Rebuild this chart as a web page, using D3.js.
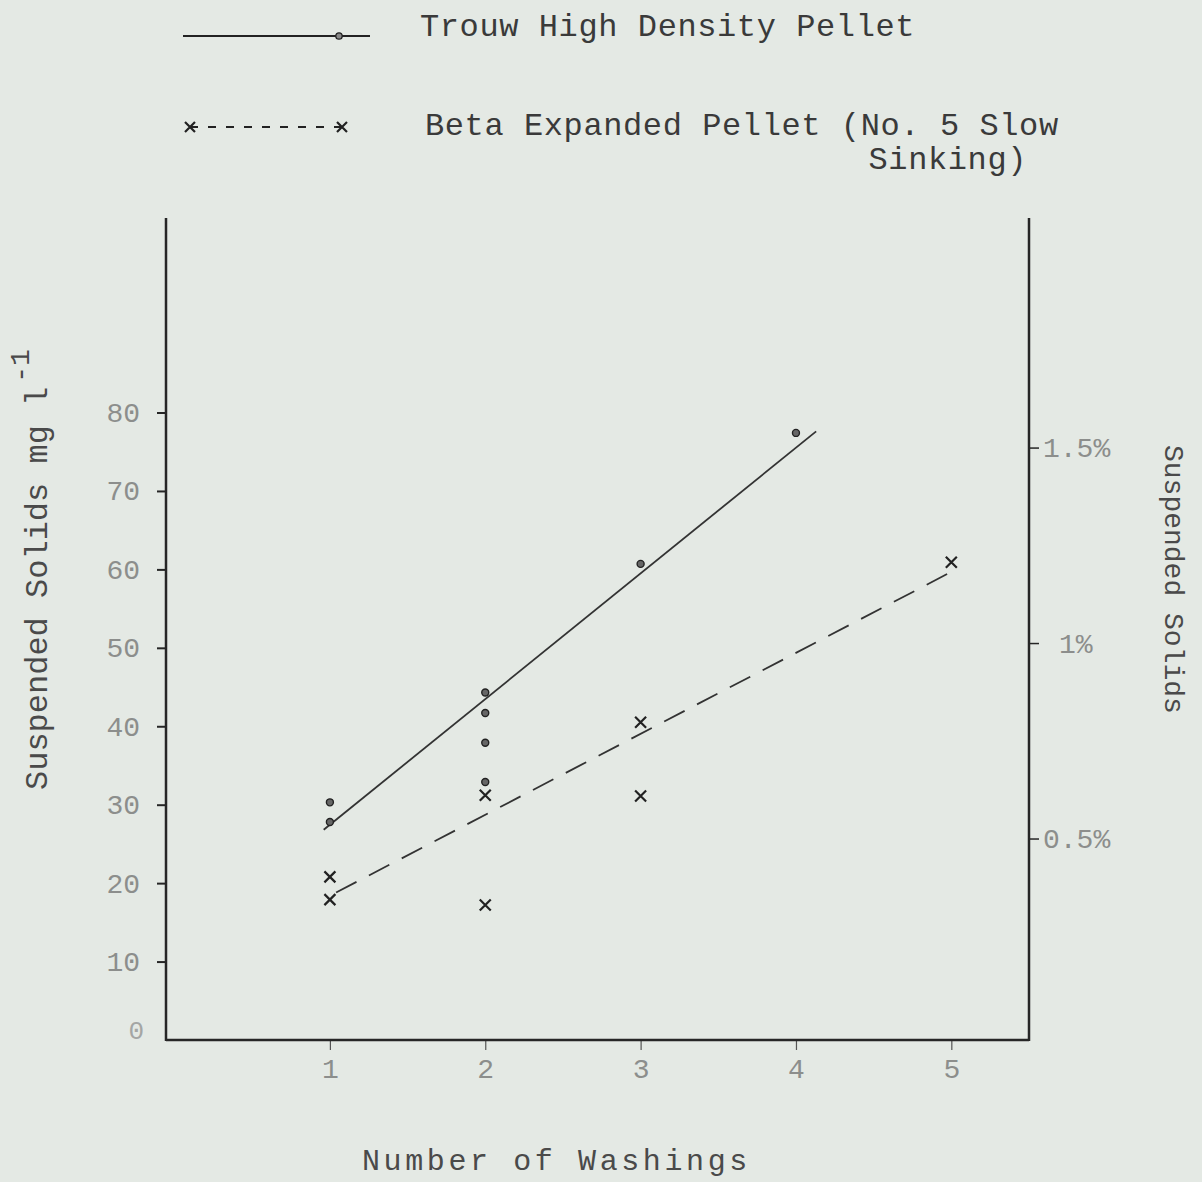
<!DOCTYPE html>
<html>
<head>
<meta charset="utf-8">
<script src="https://cdn.jsdelivr.net/npm/d3@7"></script>
<style>
  html, body { margin: 0; padding: 0; background: #e4e9e4; }
  svg { display: block; }
  text { font-family: "Liberation Mono", "DejaVu Sans Mono", monospace; }
</style>
</head>
<body>
<script>
// ---- data ----
const trouwWashings = [1, 1, 2, 2, 2, 2, 3, 4];
const trouwSolids   = [30.3, 27.8, 44.3, 41.7, 37.9, 32.9, 60.7, 77.4];
const trouwFitX     = [0.96, 4.13];
const trouwFitY     = [26.8, 77.6];

const betaWashings  = [1, 1, 2, 2, 3, 3, 5];
const betaSolids    = [20.8, 17.9, 31.2, 17.2, 40.5, 31.1, 60.9];
const betaFitX      = [1.04, 5.05];
const betaFitY      = [18.8, 60.2];

const xTicks   = [1, 2, 3, 4, 5];
const yTicks   = [10, 20, 30, 40, 50, 60, 70, 80];
const yLabels  = ["10", "20", "30", "40", "50", "60", "70", "80"];
const pctTicks = [0.5, 1, 1.5];
const pctLabels = ["0.5%", "1%", "1.5%"];

const legendNames = ["Trouw High Density Pellet", "Beta Expanded Pellet (No. 5 Slow", "Sinking)"];

// ---- layout ----
const W = 1202, H = 1182;
const svg = d3.select("body").append("svg").attr("width", W).attr("height", H);

const x = d3.scaleLinear().domain([-0.055, 5.5]).range([166, 1029]);
const y = d3.scaleLinear().domain([0, 104.8]).range([1040, 218]);
const yPct = d3.scaleLinear().domain([0, 2.1]).range([1034, 213]);

const ink = "#262626";
const faint = "#8c8e8c";

// axes
const gL = svg.append("g").attr("transform", `translate(${x.range()[0]},0)`)
  .call(d3.axisLeft(y).tickValues(yTicks).tickSize(9).tickPadding(17)
    .tickFormat((d, i) => yLabels[i]));
gL.select(".domain").remove();
gL.selectAll(".tick line").attr("stroke", ink).attr("stroke-width", 2);
gL.selectAll(".tick text").attr("fill", faint).attr("font-size", 28)
  .attr("font-family", "Liberation Mono");

// zero label
svg.append("text").attr("x", 144).attr("y", y(0) - 8)
  .attr("text-anchor", "end").attr("dominant-baseline", "middle")
  .attr("fill", "#a4a6a4").attr("font-size", 26).text("0");

const gB = svg.append("g").attr("transform", `translate(0,${y(0)})`)
  .call(d3.axisBottom(x).tickValues(xTicks).tickSize(10).tickPadding(8).tickFormat(d3.format("d")));
gB.select(".domain").remove();
gB.selectAll(".tick line").attr("stroke", "#555").attr("stroke-width", 1.2);
gB.selectAll(".tick text").attr("fill", faint).attr("font-size", 28)
  .attr("font-family", "Liberation Mono");

const gR = svg.append("g").attr("transform", `translate(${x.range()[1]},0)`)
  .call(d3.axisRight(yPct).tickValues(pctTicks).tickSize(10).tickPadding(4)
    .tickFormat((d, i) => pctLabels[i]));
gR.select(".domain").remove();
gR.selectAll(".tick line").attr("stroke", ink).attr("stroke-width", 1.5);
gR.selectAll(".tick text").attr("fill", faint).attr("font-size", 28)
  .attr("font-family", "Liberation Mono")
  .attr("dx", (d) => d === 1 ? 16 : 0);

// frame lines (open top)
svg.append("line").attr("x1", x.range()[0]).attr("x2", x.range()[0])
  .attr("y1", y.range()[1]).attr("y2", y(0) + 1)
  .attr("stroke", ink).attr("stroke-width", 2.5);
svg.append("line").attr("x1", x.range()[1]).attr("x2", x.range()[1])
  .attr("y1", y.range()[1]).attr("y2", y(0) + 1)
  .attr("stroke", ink).attr("stroke-width", 2.5);
svg.append("line").attr("x1", x.range()[0]).attr("x2", x.range()[1])
  .attr("y1", y(0)).attr("y2", y(0))
  .attr("stroke", ink).attr("stroke-width", 2.5);

// fitted lines
const line = d3.line().x(d => x(d[0])).y(d => y(d[1]));
svg.append("path").datum(d3.zip(trouwFitX, trouwFitY)).attr("d", line)
  .attr("fill", "none").attr("stroke", "#333").attr("stroke-width", 1.8);
svg.append("path").datum(d3.zip(betaFitX, betaFitY)).attr("d", line)
  .attr("fill", "none").attr("stroke", "#333").attr("stroke-width", 1.8)
  .attr("stroke-dasharray", "23 14");

// markers
svg.append("g").selectAll("circle").data(d3.zip(trouwWashings, trouwSolids)).join("circle")
  .attr("cx", d => x(d[0])).attr("cy", d => y(d[1])).attr("r", 3.5)
  .attr("fill", "#666").attr("stroke", "#222").attr("stroke-width", 1.4);

const xMark = (g, cx, cy, s) => {
  g.append("path")
    .attr("d", `M${cx - s},${cy - s}L${cx + s},${cy + s}M${cx - s},${cy + s}L${cx + s},${cy - s}`)
    .attr("stroke", "#222").attr("stroke-width", 2.2).attr("fill", "none");
};
const gX = svg.append("g");
d3.zip(betaWashings, betaSolids).forEach(d => xMark(gX, x(d[0]), y(d[1]), 5.5));

// legend
const lg = svg.append("g");
lg.append("line").attr("x1", 183).attr("x2", 370).attr("y1", 36).attr("y2", 36)
  .attr("stroke", "#222").attr("stroke-width", 2);
lg.append("circle").attr("cx", 339).attr("cy", 36).attr("r", 3.2)
  .attr("fill", "#888").attr("stroke", "#222").attr("stroke-width", 1.3);
lg.append("line").attr("x1", 190).attr("x2", 342).attr("y1", 127).attr("y2", 127)
  .attr("stroke", "#222").attr("stroke-width", 2).attr("stroke-dasharray", "8 10");
xMark(lg, 190, 127, 5);
xMark(lg, 342, 127, 5);

lg.append("text").attr("x", 420).attr("y", 36).attr("font-size", 32)
  .attr("letter-spacing", 0.6).attr("fill", "#3a3a3a").text(legendNames[0]);
lg.append("text").attr("x", 425).attr("y", 135).attr("font-size", 32)
  .attr("letter-spacing", 0.6).attr("fill", "#3a3a3a").text(legendNames[1]);
lg.append("text").attr("x", 1027).attr("y", 169).attr("font-size", 32)
  .attr("text-anchor", "end").attr("letter-spacing", 0.6).attr("fill", "#3a3a3a").text(legendNames[2]);

// axis titles
const lt = svg.append("text").attr("transform", "translate(47,790) rotate(-90)")
  .attr("font-size", 32).attr("fill", "#4a4a4a");
lt.append("tspan").text("Suspended Solids mg l");
lt.append("tspan").attr("font-size", 28).attr("dy", -18).attr("dx", 4).text("-1");

svg.append("text").attr("transform", "translate(1165,445) rotate(90)")
  .attr("font-size", 28).attr("fill", "#4a4a4a").text("Suspended Solids");

svg.append("text").attr("x", 362).attr("y", 1170).attr("font-size", 30)
  .attr("letter-spacing", 3.6).attr("fill", "#4a4a4a").text("Number of Washings");
</script>
</body>
</html>
